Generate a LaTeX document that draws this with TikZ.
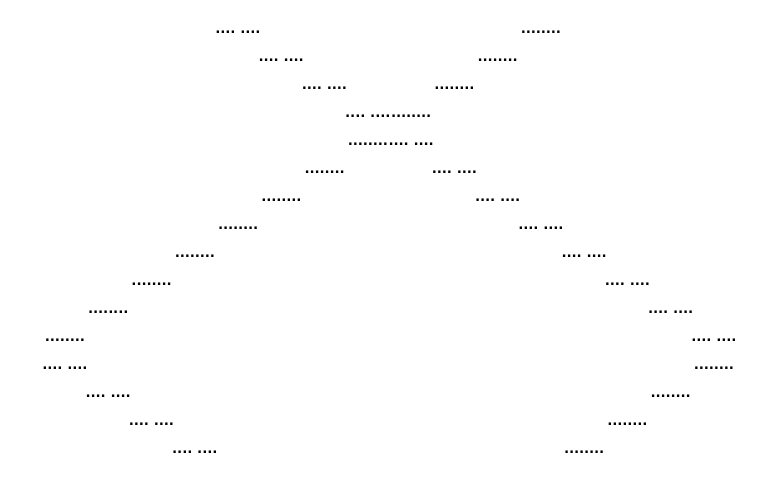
\documentclass[tikz,border=0pt]{standalone}
\usepackage{fontspec}
\setmainfont{Liberation Sans}
\newcommand\onedot{\makebox[5pt]{.}}
\newcommand\dotpatA{\onedot\onedot\onedot\onedot\kern5pt\onedot\onedot\onedot\onedot}
\newcommand\dotpatB{\onedot\onedot\onedot\onedot\onedot\onedot\onedot\onedot}
\begin{document}
\begin{tikzpicture}[x=1pt,y=-1pt,
  lbl/.style={inner sep=0pt, anchor=base, font=\fontsize{24}{24}\selectfont}]
\useasboundingbox (0,0) rectangle (779,482);
\foreach \k in {0,...,15}{
  \pgfmathsetmacro\yy{33+28.03*\k}
  \pgfmathsetmacro\xa{\k<12 ? 238+43.27*\k : 65+43.27*(\k-12)}
  \pgfmathsetmacro\xb{\k<12 ? 541-43.27*\k : 714-43.27*(\k-12)}
  \node[lbl] (a\k) at (\xa,\yy) {\dotpatA};
  \node[lbl] (b\k) at (\xb,\yy) {\dotpatB};
}
\end{tikzpicture}
\end{document}
